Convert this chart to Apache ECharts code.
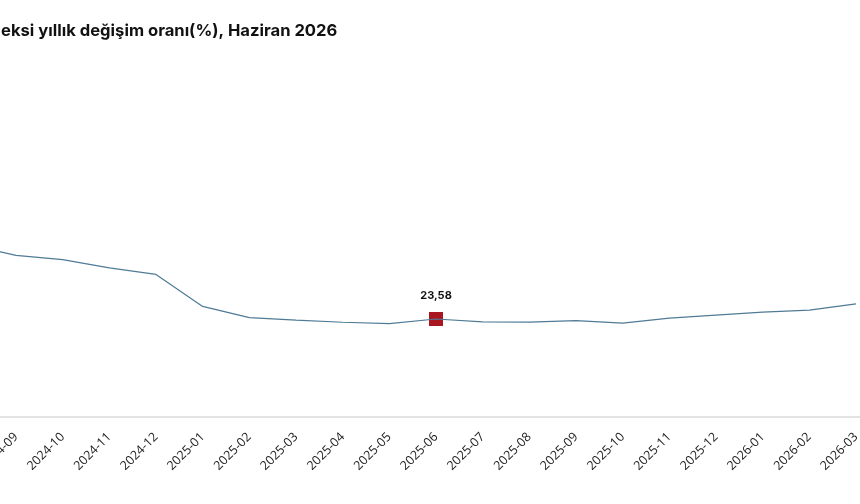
<!DOCTYPE html>
<html lang="tr">
<head>
    <meta charset="UTF-8">
    <title></title>
    <style type="text/css">
        html,
        body {
            padding: 0;
            margin: 0;
            overflow: hidden;
            background-color: #ffffff;
            width: 860px;
            height: 504px;
            position: relative;
        }
        .canvas {
            position: absolute;
            left: -100px;
            top: 0;
            width: 1100px;
            height: 504px;
        }
    </style>
</head>
<body>
<div class="canvas" id="chart"></div>
<script type="text/javascript" src="https://cdn.jsdelivr.net/npm/echarts@6/dist/echarts.min.js"></script>
<script>
    // aylar (kategori) - grafik sağ ve soldan kırpılmış
    const months = [
        '2024-08', '2024-09', '2024-10', '2024-11', '2024-12',
        '2025-01', '2025-02', '2025-03', '2025-04', '2025-05', '2025-06',
        '2025-07', '2025-08', '2025-09', '2025-10', '2025-11', '2025-12',
        '2026-01', '2026-02', '2026-03', '2026-04'
    ];
    // yıllık değişim oranı (%), görünmeyen ay için '-'
    const rates = [
        41.4, 38.9, 37.85, 35.9, 34.3,
        26.6, 23.9, 23.3, 22.8, 22.45, 23.58,
        22.9, 22.85, 23.2, 22.6, 23.8, 24.5,
        25.25, 25.7, 27.2, '-'
    ];
    const highlightMonth = '2025-06';
    const titleText = 'eksi yıllık değişim oranı(%), Haziran 2026';

    const hi = months.indexOf(highlightMonth);
    const hiData = rates.map(function (v, i) {
        return i === hi ? v : '-';
    });

    const chart = echarts.init(document.getElementById('chart'));
    chart.setOption({
        animation: false,
        textStyle: {fontFamily: 'Open Sans'},
        title: {
            text: titleText,
            left: 96,
            top: 17,
            textStyle: {
                fontFamily: 'Inter',
                fontSize: 16.6,
                fontWeight: 'bold',
                color: '#111111'
            }
        },
        grid: {
            left: 69.33,
            right: 97.33,
            top: 84.5,
            bottom: 87
        },
        xAxis: {
            type: 'category',
            data: months,
            boundaryGap: false,
            axisLine: {lineStyle: {color: '#e3e3e3', width: 2}},
            axisTick: {show: false},
            axisLabel: {
                rotate: 45,
                margin: 18,
                fontSize: 12.5,
                color: '#222222',
                interval: 0
            },
            splitLine: {show: false}
        },
        yAxis: {
            type: 'value',
            min: 0,
            max: 80,
            show: false,
            splitLine: {show: false}
        },
        series: [
            {
                type: 'line',
                data: rates,
                showSymbol: false,
                symbol: 'none',
                lineStyle: {color: '#4f7b96', width: 1.2},
                silent: true
            },
            {
                type: 'scatter',
                data: hiData,
                symbol: 'rect',
                symbolSize: 14,
                itemStyle: {color: '#a9161f', opacity: 1},
                label: {
                    show: true,
                    position: 'top',
                    distance: 11,
                    fontSize: 11,
                    fontWeight: 'bold',
                    fontFamily: 'Inter',
                    color: '#111111',
                    formatter: function (p) {
                        return String(p.value).replace('.', ',');
                    }
                }
            }
        ]
    });
</script>
</body>
</html>
